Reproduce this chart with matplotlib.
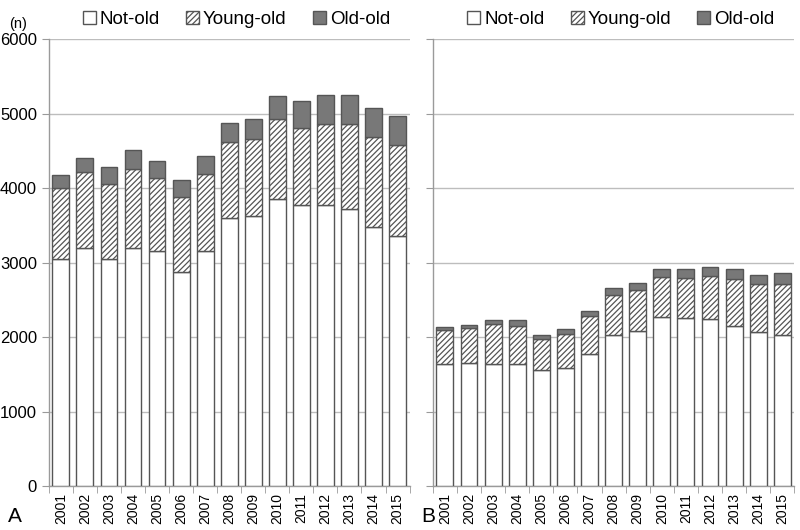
import matplotlib
matplotlib.use("Agg")
import matplotlib.pyplot as plt
import numpy as np

plt.rcParams['font.family'] = ['Liberation Sans', 'DejaVu Sans']
plt.rcParams['hatch.linewidth'] = 0.9

years = [str(y) for y in range(2001, 2016)]

# Panel A (stacked components)
a_not_old = [3050, 3190, 3050, 3200, 3150, 2880, 3150, 3605, 3620, 3855, 3780, 3770, 3720, 3475, 3355]
a_young_old = [950, 1025, 1010, 1055, 980, 995, 1040, 1015, 1045, 1075, 1030, 1095, 1145, 1210, 1225]
a_old_old = [180, 195, 220, 260, 235, 235, 240, 255, 270, 305, 360, 385, 385, 385, 385]

# Panel B (stacked components)
b_not_old = [1635, 1650, 1645, 1645, 1555, 1590, 1777, 2027, 2082, 2268, 2254, 2241, 2147, 2063, 2027]
b_young_old = [460, 475, 530, 508, 415, 455, 505, 540, 552, 545, 545, 585, 630, 651, 687]
b_old_old = [35, 40, 53, 70, 53, 58, 72, 89, 98, 107, 121, 120, 143, 125, 143]

y_ticks = [0, 1000, 2000, 3000, 4000, 5000, 6000]
labels = ["Not-old", "Young-old", "Old-old"]

fig = plt.figure(figsize=(8, 5.3), dpi=100)
axA = fig.add_axes([0.061, 0.083, 0.451, 0.843])
axB = fig.add_axes([0.541, 0.083, 0.452, 0.843])

edge = '#555555'
grid_c = '#bdbdbd'
spine_c = '#9a9a9a'

def draw(ax, n, y, o, show_labels):
    x = np.arange(len(years))
    w = 0.7
    b1 = ax.bar(x, n, w, color='white', edgecolor=edge, linewidth=1.0, zorder=3)
    b2 = ax.bar(x, y, w, bottom=n, color='white', edgecolor=edge, hatch='//////',
                linewidth=1.0, zorder=3)
    bot = np.array(n) + np.array(y)
    b3 = ax.bar(x, o, w, bottom=bot, color='#787878', edgecolor=edge, linewidth=1.0, zorder=3)
    ax.set_xlim(-0.5, len(years) - 0.5)
    ax.set_ylim(0, 6000)
    ax.set_yticks(y_ticks)
    ax.yaxis.grid(True, color=grid_c, linewidth=1.0, zorder=0)
    ax.set_axisbelow(True)
    for s in ['top', 'right']:
        ax.spines[s].set_visible(False)
    for s in ['left', 'bottom']:
        ax.spines[s].set_color(spine_c)
        ax.spines[s].set_linewidth(1.0)
    ax.set_xticks(x)
    ax.set_xticklabels(years, rotation=90, fontsize=10)
    ax.set_xticks(np.arange(-0.5, len(years), 1.0), minor=True)
    ax.tick_params(axis='x', which='major', length=0, pad=5)
    ax.tick_params(axis='x', which='minor', length=5, color=spine_c, direction='out')
    ax.tick_params(axis='y', length=5, color=spine_c, labelsize=12)
    if not show_labels:
        ax.set_yticklabels([])
    leg = ax.legend([b1, b2, b3], labels, loc='lower center', bbox_to_anchor=(0.52, 1.0),
                    ncol=3, frameon=False, fontsize=13.5, handlelength=0.7, handleheight=0.7,
                    handletextpad=0.2, columnspacing=1.4, borderpad=0.1)
    return ax

draw(axA, a_not_old, a_young_old, a_old_old, True)
draw(axB, b_not_old, b_young_old, b_old_old, False)

fig.text(0.012, 0.955, "(n)", fontsize=10.5, ha='left', va='center')
fig.text(0.01, 0.025, "A", fontsize=15, ha='left', va='center')
fig.text(0.527, 0.025, "B", fontsize=15, ha='left', va='center')

fig.savefig("out.png", dpi=100)
